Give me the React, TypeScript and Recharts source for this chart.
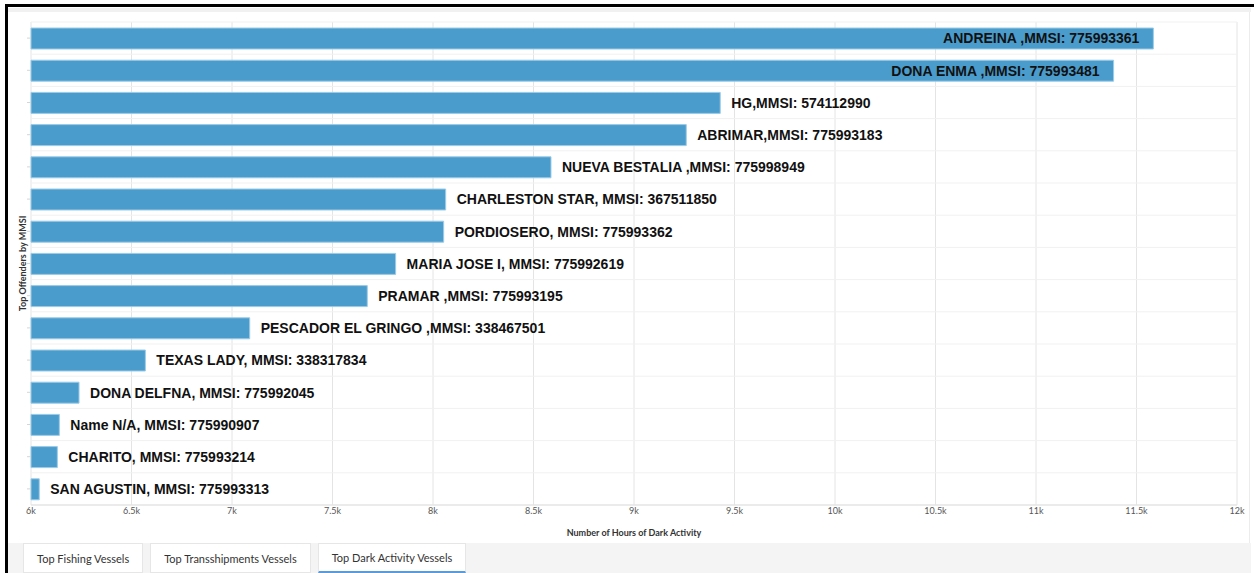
import React from 'react';
import { BarChart, Bar, XAxis, YAxis, CartesianGrid, LabelList } from 'recharts';

const vessels = [
  'ANDREINA ,MMSI: 775993361',
  'DONA ENMA ,MMSI: 775993481',
  'HG,MMSI: 574112990',
  'ABRIMAR,MMSI: 775993183',
  'NUEVA BESTALIA ,MMSI: 775998949',
  'CHARLESTON STAR, MMSI: 367511850',
  'PORDIOSERO, MMSI: 775993362',
  'MARIA JOSE I, MMSI: 775992619',
  'PRAMAR ,MMSI: 775993195',
  'PESCADOR EL GRINGO ,MMSI: 338467501',
  'TEXAS LADY, MMSI: 338317834',
  'DONA DELFNA, MMSI: 775992045',
  'Name N/A, MMSI: 775990907',
  'CHARITO, MMSI: 775993214',
  'SAN AGUSTIN, MMSI: 775993313',
];
const darkHours = [11584, 11386, 9429, 9260, 8587, 8063, 8053, 7814, 7673, 7088, 6569, 6239, 6141, 6131, 6041];
const xTicks = [6000, 6500, 7000, 7500, 8000, 8500, 9000, 9500, 10000, 10500, 11000, 11500, 12000];
const tabs = ['Top Fishing Vessels', 'Top Transshipments Vessels', 'Top Dark Activity Vessels'];
const activeTab = 2;

const data = vessels.map((name, i) => ({ name, hours: darkHours[i] }));

const CHART_W = 1254;
const CHART_H = 545;
const MARGIN = { top: 22, right: 17, bottom: 0, left: 0 };
const PLOT_RIGHT = CHART_W - MARGIN.right;
const LABEL_FONT = "bold 14px 'Liberation Sans', Arial, sans-serif";

let ctx: CanvasRenderingContext2D | null = null;
function measure(text: string): number {
  if (typeof document !== 'undefined') {
    if (!ctx) ctx = document.createElement('canvas').getContext('2d');
    if (ctx) {
      ctx.font = LABEL_FONT;
      return ctx.measureText(text).width;
    }
  }
  return text.length * 8;
}

const BarLabel = (props: any) => {
  const { x, y, width, height, index } = props;
  const text = vessels[index];
  const w = measure(text);
  const end = x + width;
  const inside = end + 11 + w > PLOT_RIGHT;
  const tx = inside ? end - 14 : end + 11;
  return (
    <text
      x={tx}
      y={y + height / 2}
      dy="0.35em"
      textAnchor={inside ? 'end' : 'start'}
      fill="#111"
      style={{ font: LABEL_FONT }}
    >
      {text}
    </text>
  );
};

const YLabel = (props: any) => {
  const vb = props.viewBox || {};
  const cx = 22;
  const cy = (vb.y ?? 22) + (vb.height ?? 483) / 2;
  return (
    <text
      x={cx}
      y={cy}
      transform={`rotate(-90 ${cx} ${cy})`}
      textAnchor="middle"
      dominantBaseline="central"
      fill="#333"
      style={{ fontFamily: 'Lato, sans-serif', fontSize: 9, fontWeight: 700 }}
    >
      Top Offenders by MMSI
    </text>
  );
};

const XLabel = (props: any) => {
  const vb = props.viewBox || {};
  const cx = (vb.x ?? 31) + (vb.width ?? 1206) / 2;
  const cy = (vb.y ?? 505) + 27;
  return (
    <text
      x={cx}
      y={cy}
      textAnchor="middle"
      dominantBaseline="central"
      fill="#333"
      style={{ fontFamily: 'Lato, sans-serif', fontSize: 9, fontWeight: 700 }}
    >
      Number of Hours of Dark Activity
    </text>
  );
};

const bandLines = (props: any) => {
  const off = props && props.offset ? props.offset : { top: 22, height: 483 };
  const n = vessels.length;
  const out: number[] = [];
  for (let i = 0; i <= n; i++) out.push(off.top + (i * off.height) / n);
  return out;
};

export default function App() {
  return (
    <div
      style={{
        position: 'fixed',
        left: 0,
        top: 0,
        width: 1254,
        height: 573,
        background: '#fff',
        overflow: 'hidden',
        fontFamily: 'Lato, sans-serif',
      }}
    >
      {/* screenshot frame */}
      <div style={{ position: 'absolute', left: 5, top: 4, width: 3, height: 569, background: '#000' }} />
      <div style={{ position: 'absolute', left: 5, top: 4, width: 1249, height: 3, background: '#000' }} />
      {/* panel top strip */}
      <div style={{ position: 'absolute', left: 8, top: 8, width: 1243, height: 4, background: '#f1f1f1' }} />
      {/* panel right edge */}
      <div style={{ position: 'absolute', left: 1249, top: 12, width: 1, height: 531, background: '#ececec' }} />

      <div style={{ position: 'absolute', left: 0, top: 0 }}>
        <BarChart width={CHART_W} height={CHART_H} data={data} layout="vertical" margin={MARGIN}>
          <CartesianGrid horizontal={false} vertical stroke="#e4e4e4" />
          <CartesianGrid
            vertical={false}
            horizontal
            stroke="#f1f1f1"
            horizontalCoordinatesGenerator={bandLines}
          />
          <XAxis
            type="number"
            domain={[6000, 12000]}
            ticks={xTicks}
            tickFormatter={(v: number) => `${v / 1000}k`}
            tickLine={false}
            tickSize={0}
            tickMargin={3}
            axisLine={{ stroke: '#dedede' }}
            height={40}
            interval={0}
            tick={{ fill: '#555', fontSize: 9, fontFamily: 'Lato, sans-serif' }}
            label={<XLabel />}
          />
          <YAxis
            type="category"
            dataKey="name"
            width={31}
            axisLine={false}
            tickSize={4}
            tickLine={{ stroke: '#d6d6d6' }}
            tickFormatter={() => ''}
            interval={0}
            label={<YLabel />}
          />
          <Bar
            dataKey="hours"
            fill="#4a9ccd"
            stroke="#9ccbe6"
            strokeWidth={1}
            barSize={21}
            isAnimationActive={false}
          >
            <LabelList dataKey="hours" content={<BarLabel />} />
          </Bar>
        </BarChart>
      </div>

      {/* tab bar */}
      <div
        style={{
          position: 'absolute',
          left: 8,
          top: 543,
          width: 1243,
          height: 30,
          background: '#f4f4f4',
        }}
      />
      <div
        style={{
          position: 'absolute',
          left: 23,
          top: 543,
          height: 30,
          display: 'flex',
          gap: 7,
        }}
      >
        {tabs.map((t, i) => (
          <div
            key={t}
            style={{
              boxSizing: 'border-box',
              height: 30,
              padding: '0 13px',
              background: '#fff',
              border: '1px solid #e6e6e6',
              borderBottom: i === activeTab ? '2px solid #5b9bd8' : '1px solid #e6e6e6',
              display: 'flex',
              alignItems: 'center',
              fontSize: 11,
              color: '#333',
              whiteSpace: 'nowrap',
            }}
          >
            {t}
          </div>
        ))}
      </div>
    </div>
  );
}
